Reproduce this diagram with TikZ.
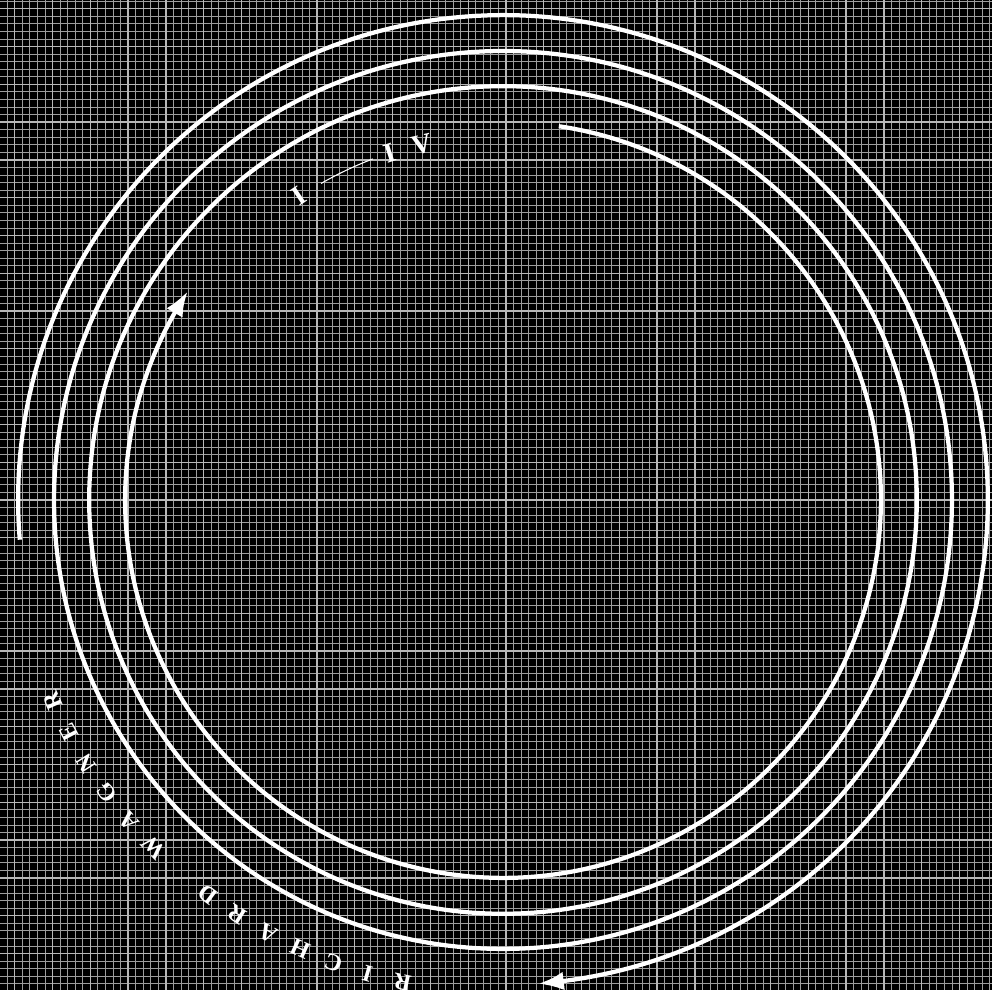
\documentclass[tikz,border=0pt]{standalone}
\usepackage{fontspec}
\setmainfont{Liberation Serif}
\usetikzlibrary{arrows.meta,bending}
\tikzset{
  ring/.style={draw=white, line width=3.2pt},
  tip/.style={-{Latex[length=19pt,width=14pt,bend]}},
  fine/.style={draw=white!62!black, line width=0.55pt},
  major/.style={draw=white!72!black, line width=1pt},
  rim/.style={text=white, font=\fontsize{18}{18}\selectfont\bfseries, inner sep=0pt},
  numeral/.style={text=white, font=\fontsize{21}{21}\selectfont\bfseries, inner sep=0pt},
  link/.style={draw=white, line width=0.8pt}
}
\begin{document}
\begin{tikzpicture}
  % page frame and black ground
  \useasboundingbox (-13.31,-12.96) rectangle (12.94,13.23);
  \fill[black] (-13.31,-12.96) rectangle (12.94,13.23);
  % grid paper
  \begin{scope}
    \clip (-13.31,-12.96) rectangle (12.94,13.23);
    \draw[fine, xshift=0.79mm] (-15,-15) grid[step=0.2] (15,15);
    \draw[major, xshift=0.79mm] (-15,-15) grid[step=1] (15,15);
  \end{scope}
  % rings, outside in
  \draw[ring, tip] (184.7:12.83) arc[start angle=184.7, end angle=-85.8, radius=12.83];
  \draw[ring] (0,0) circle[radius=11.88];
  \draw[ring] (0,0) circle[radius=10.95];
  \draw[ring, tip] (81.5:10.0) arc[start angle=81.5, end angle=-213.5, radius=10.0];
  % name in the gap of the outer ring
  \foreach \k/\ch in {0/R,1/I,2/C,3/H,4/A,5/R,6/D,8/W,9/A,10/G,11/N,12/E,13/R}{
    \pgfmathsetmacro{\ang}{258.2-4.17*\k}
    \pgfmathsetmacro{\rot}{\ang-90}
    \node[rim, rotate=\rot] (name\k) at (\ang:13.04) {\ch};
  }
  % numerals in the gap of the inner ring
  \node[numeral, rotate=33.9] (numI) at (123.9:9.70) {I};
  \node[numeral, rotate=18] (numIVa) at (108:9.66) {I};
  \node[numeral, rotate=12.9] (numIVb) at (102.9:9.64) {V};
  \coordinate (lnA) at (119.9:9.66);
  \draw[link] (lnA) arc[start angle=119.9, end angle=110.9, radius=9.66];
\end{tikzpicture}
\end{document}
